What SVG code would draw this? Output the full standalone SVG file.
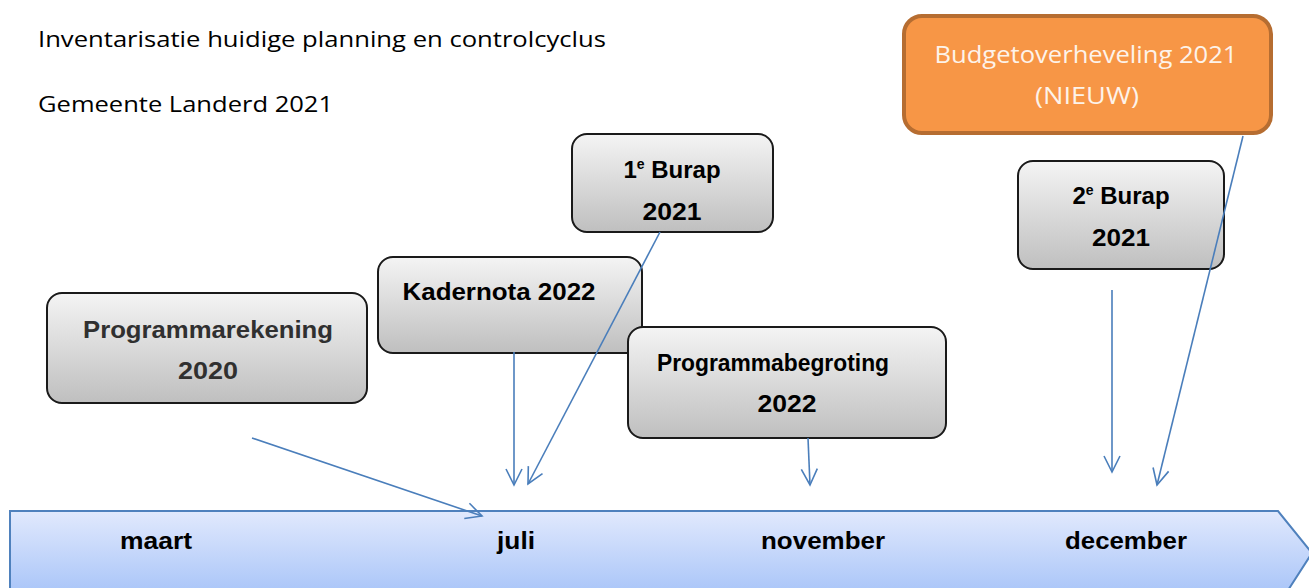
<svg xmlns="http://www.w3.org/2000/svg" width="1309" height="588" viewBox="0 0 1309 588">
<defs>
<linearGradient id="gray" x1="0" y1="0" x2="0" y2="1">
<stop offset="0" stop-color="#f4f4f4"/>
<stop offset="1" stop-color="#bfbfbf"/>
</linearGradient>
<linearGradient id="blue" x1="0" y1="0" x2="0" y2="1">
<stop offset="0" stop-color="#e1e9fd"/>
<stop offset="1" stop-color="#a6c3f8"/>
</linearGradient>
<marker id="arr" viewBox="0 0 20 20" refX="18" refY="10" markerWidth="20" markerHeight="20" markerUnits="userSpaceOnUse" orient="auto">
<path d="M2,2 L18,10 L2,18" fill="none" stroke="#4a7ebb" stroke-width="1.6"/>
</marker>
</defs>
<style>
.box{fill:url(#gray);stroke:#1a1a1a;stroke-width:2}
.bt{font-family:"Liberation Sans",Arial,sans-serif;font-weight:bold;font-size:24px;fill:#000;text-anchor:middle}
.gt{fill:#303030}
.title{font-family:"Open Sans","Liberation Sans",Arial,sans-serif;font-size:22px;fill:#000}
.month{font-family:"Liberation Sans",Arial,sans-serif;font-weight:bold;font-size:24px;fill:#000;text-anchor:middle}
.bud{font-family:"Open Sans","Liberation Sans",Arial,sans-serif;font-size:23px;fill:#fdf3ea;text-anchor:middle}
.conn line{stroke:#4a7ebb;stroke-width:1.6;marker-end:url(#arr)}
</style>
<rect width="1309" height="588" fill="#fff"/>
<g id="title">
<text class="title" x="38" y="47" textLength="568" lengthAdjust="spacingAndGlyphs">Inventarisatie huidige planning en controlcyclus</text>
<text class="title" x="38" y="112" textLength="295" lengthAdjust="spacingAndGlyphs">Gemeente Landerd 2021</text>
</g>
<g id="timeline">
<polygon points="10,511 1278,511 1312,553 1283,598 10,598" fill="url(#blue)" stroke="#4f81bd" stroke-width="2"/>
<text class="month" x="156" y="549" textLength="72" lengthAdjust="spacingAndGlyphs">maart</text>
<text class="month" x="516" y="549" textLength="38" lengthAdjust="spacingAndGlyphs">juli</text>
<text class="month" x="823" y="549" textLength="124" lengthAdjust="spacingAndGlyphs">november</text>
<text class="month" x="1126" y="549" textLength="122" lengthAdjust="spacingAndGlyphs">december</text>
</g>
<g id="programmarekening">
<rect class="box" x="47" y="293" width="320" height="110" rx="15"/>
<text class="bt gt" x="208" y="338" textLength="250" lengthAdjust="spacingAndGlyphs">Programmarekening</text>
<text class="bt gt" x="208" y="379" textLength="60" lengthAdjust="spacingAndGlyphs">2020</text>
</g>
<g id="kadernota">
<rect class="box" x="378" y="257" width="264" height="96" rx="15"/>
<text class="bt" x="499" y="300" textLength="193" lengthAdjust="spacingAndGlyphs">Kadernota 2022</text>
</g>
<g id="burap1">
<rect class="box" x="572" y="134" width="201" height="98" rx="15"/>
<text class="bt" x="672" y="178">1<tspan font-size="14" dy="-9">e</tspan><tspan dy="9"> Burap</tspan></text>
<text class="bt" x="672" y="220" textLength="59" lengthAdjust="spacingAndGlyphs">2021</text>
</g>
<g id="programmabegroting">
<rect class="box" x="628" y="327" width="318" height="111" rx="15"/>
<text class="bt" x="773" y="371" textLength="232" lengthAdjust="spacingAndGlyphs">Programmabegroting</text>
<text class="bt" x="787" y="412" textLength="59" lengthAdjust="spacingAndGlyphs">2022</text>
</g>
<g id="burap2">
<rect class="box" x="1018" y="161" width="206" height="108" rx="15"/>
<text class="bt" x="1121" y="204">2<tspan font-size="14" dy="-9">e</tspan><tspan dy="9"> Burap</tspan></text>
<text class="bt" x="1121" y="246" textLength="58" lengthAdjust="spacingAndGlyphs">2021</text>
</g>
<g id="budgetoverheveling">
<rect x="904" y="16" width="367" height="117" rx="18" fill="#f79646" stroke="#b66d31" stroke-width="4"/>
<text class="bud" x="1086" y="63" textLength="303" lengthAdjust="spacingAndGlyphs">Budgetoverheveling 2021</text>
<text class="bud" x="1087" y="104" textLength="104" lengthAdjust="spacingAndGlyphs">(NIEUW)</text>
</g>
<g id="connectors" class="conn">
<line x1="252" y1="438" x2="482" y2="516"/>
<line x1="514" y1="352" x2="514" y2="485"/>
<line x1="660" y1="232" x2="528" y2="484"/>
<line x1="808" y1="438" x2="810" y2="485"/>
<line x1="1112" y1="290" x2="1112" y2="472"/>
<line x1="1243" y1="136" x2="1157" y2="485"/>
</g>
</svg>
